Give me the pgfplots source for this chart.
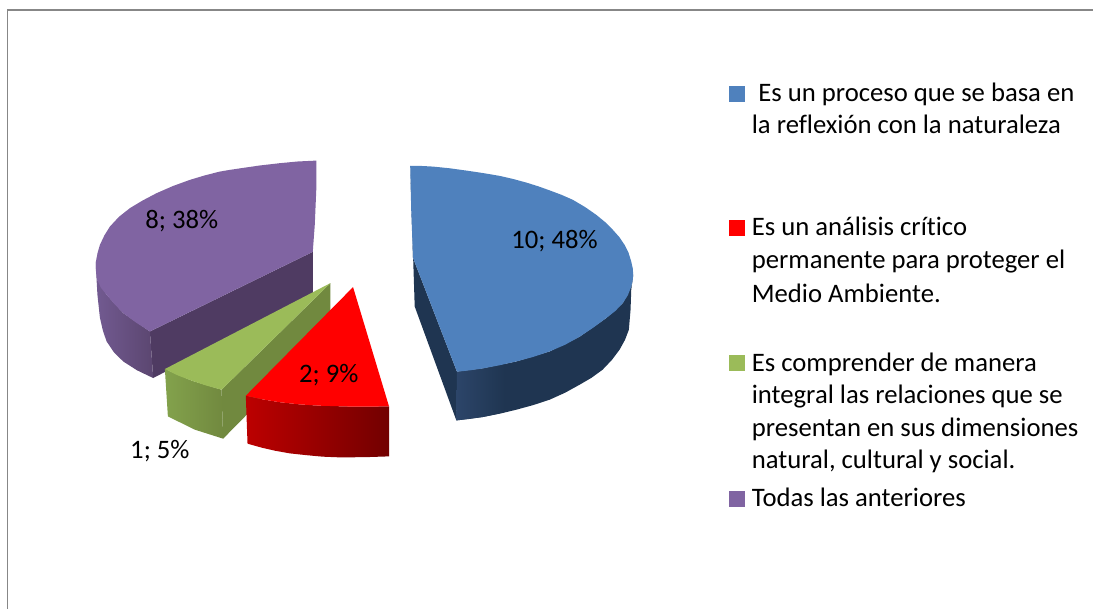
\documentclass[border=0pt]{standalone}
\usepackage{fontspec}
\setmainfont[Ligatures=NoCommon]{Carlito}
\usepackage{pgfplots}
\pgfplotsset{compat=1.18}
\definecolor{azul}{HTML}{4F81BD}
\definecolor{azulosc}{HTML}{1F3551}
\definecolor{azulmed}{HTML}{2C4569}
\definecolor{rojo}{HTML}{FF0000}
\definecolor{verde}{HTML}{9BBB59}
\definecolor{verdeosc}{HTML}{71893F}
\definecolor{verdemed}{HTML}{83A24C}
\definecolor{lila}{HTML}{8064A2}
\definecolor{lilaosc}{HTML}{4F3B62}
\definecolor{lilamed}{HTML}{725A91}
\definecolor{lilafin}{HTML}{5B4670}
\definecolor{rojomed}{HTML}{BC0000}
\definecolor{rojoosc}{HTML}{720000}
\tikzset{
	lbl/.style={anchor=base west, inner sep=0pt, font=\fontsize{13.35}{13.35}\selectfont, text=black},
	dat/.style={anchor=center, inner sep=0pt, font=\fontsize{13.35}{13.35}\selectfont, text=black},
}
\begin{document}
\begin{tikzpicture}
	\begin{axis}[
			scale only axis,
			width=547pt,
			height=304.5pt,
			xmin=0, xmax=1094,
			ymin=0, ymax=609,
			y dir=reverse,
			hide axis,
			clip=false,
		]

		% keeps the page as large as the whole axis
		\addplot[draw=none] coordinates {(0,0) (1094,609)};

		% marco
		\addplot[draw=black!47, line width=0.8pt] coordinates {(7.5,609) (7.5,10) (1094,10)};

		% purpura
		\addplot[fill=lilaosc, draw=none] coordinates {(150,331.7) (313,252) (313,296) (153.3,378.3)};
		\addplot[left color=lilamed, right color=lilafin, draw=none] coordinates {
				(96,262) (96,268) (97.5,295) (100,318) (103,331) (106.7,341.7) (114,352.5)
				(123.3,361.7) (137,370.5) (153.3,378.3) (150,331.7)
				(123.3,313.3) (106.7,295) (97.3,280)
			};
		\addplot[fill=lila, draw=none] coordinates {
				(316.7,160.7) (298,161.6) (280,163.3) (260,165.6) (240,168.5) (230,170) (220,171.7)
				(205,175.5) (190,180) (173,186.2) (156.7,193.3) (143,200.5) (130,208.3) (119,217)
				(110,226.7) (104.5,235.5) (100,245) (97.6,253.2) (96,261.7) (96,271) (97.3,280)
				(101,288) (106.7,295) (114.5,304.3) (123.3,313.3) (136,322.7) (150,331.7)
				(313,252) (315,225) (316.5,190)
			};

		% verde
		\addplot[fill=verdeosc, draw=none] coordinates {(221.7,390) (330.7,283.3) (330.7,330) (223.3,439)};
		\addplot[left color=verdemed, right color=verdeosc, draw=none] coordinates {
				(165,369.3) (168,416.7) (195,430) (223.3,439) (221.7,390) (192,381)
			};
		\addplot[fill=verde, draw=none] coordinates {
				(330.7,283.3) (165,369.3) (178,375.7) (192,381) (207,386) (221.7,390)
			};

		% rojo
		\addplot[left color=rojomed, right color=rojoosc, draw=none] coordinates {
				(246,396) (247.7,444) (262,448) (275,451) (290,453.7) (306.7,455.5) (323,457)
				(340,457.7) (365,457.5) (389.3,456.7)
				(389.3,406.7) (355,407) (320,406) (300,404.7) (280,402.5) (263,399.7)
			};
		\addplot[fill=rojo, draw=none] coordinates {
				(353.3,287.3) (246,396) (263,399.7) (280,402.5) (300,404.7) (320,406) (355,407) (389.3,406.7)
			};

		% azul
		\addplot[fill=azulosc, draw=none] coordinates {
				(410.5,166) (413.3,258) (457.3,372) (456.7,420.7) (415,306.7)
			};
		\addplot[fill=azulosc, draw=none] coordinates {
				(457.3,372) (456.7,420.7) (470,419.2) (483.3,417.3) (500,414) (516.7,410)
				(533.5,405.4) (550,400) (565.5,393) (580,385) (592,378) (603,370) (612.5,360)
				(620,350) (625.5,340) (629.3,330) (631,310) (631.7,290) (633.7,275)
				(631.7,286.7) (623.3,303.3) (606.7,318.3) (580,337) (550,351.7) (516.7,361.7) (483.3,368.7)
			};
		\addplot[left color=azulmed, right color=azulosc, draw=none] coordinates {
				(457.3,372) (456.7,420.7) (483.3,417.3) (505,412.5) (505,364.2) (483.3,368.7)
			};
		\addplot[fill=azul, draw=none] coordinates {
				(410.5,166) (422,166.1) (433.3,166.7) (450,168.4) (466.7,170.7) (483.5,173.2)
				(500,176) (513.5,179.1) (526.7,182.7) (538.5,186.4) (550,190.5) (562,195)
				(573.3,200) (585.5,207.2) (596.7,215) (605.5,222.2) (613.3,230) (619.7,237.2)
				(625,245) (629,253) (631.7,261.7) (633.2,268.5) (633.7,275) (633.1,281)
				(631.7,286.7) (628.3,295.5) (623.3,303.3) (616,311) (606.7,318.3) (593.5,328)
				(580,337) (565.5,345) (550,351.7) (533.5,357.2) (516.7,361.7) (500,365.5)
				(483.3,368.7) (470,370.6) (457.3,372) (413.3,258) (411.5,210)
			};

		% leyenda
		\addplot[only marks, mark=square*, mark size=3.75pt, color=azul, mark options={draw=none}] coordinates {(737.5,93.5)};
		\addplot[only marks, mark=square*, mark size=3.75pt, color=rojo, mark options={draw=none}] coordinates {(737.5,228.5)};
		\addplot[only marks, mark=square*, mark size=3.75pt, color=verde, mark options={draw=none}] coordinates {(737.5,363.5)};
		\addplot[only marks, mark=square*, mark size=3.75pt, color=lila, mark options={draw=none}] coordinates {(737.5,499.5)};

		\node[lbl] at (axis cs:758.5,101.7) {Es un proceso que se basa en};
		\node[lbl] at (axis cs:752,133.3) {la reflexión con la naturaleza};
		\node[lbl] at (axis cs:752,235.7) {Es un análisis crítico};
		\node[lbl] at (axis cs:752,269) {permanente para proteger el};
		\node[lbl] at (axis cs:752,303) {Medio Ambiente.};
		\node[lbl] at (axis cs:752,371.7) {Es comprender de manera};
		\node[lbl] at (axis cs:752,404) {integral las relaciones que se};
		\node[lbl] at (axis cs:752,436.7) {presentan en sus dimensiones};
		\node[lbl] at (axis cs:752,469) {natural, cultural y social.};
		\node[lbl] at (axis cs:752,506.7) {Todas las anteriores};

		% etiquetas de datos
		\node[dat] at (axis cs:555,241) {10; 48\%};
		\node[dat] at (axis cs:182,221) {8; 38\%};
		\node[dat] at (axis cs:329,375) {2; 9\%};
		\node[dat] at (axis cs:160,451) {1; 5\%};
	\end{axis}
\end{tikzpicture}
\end{document}
